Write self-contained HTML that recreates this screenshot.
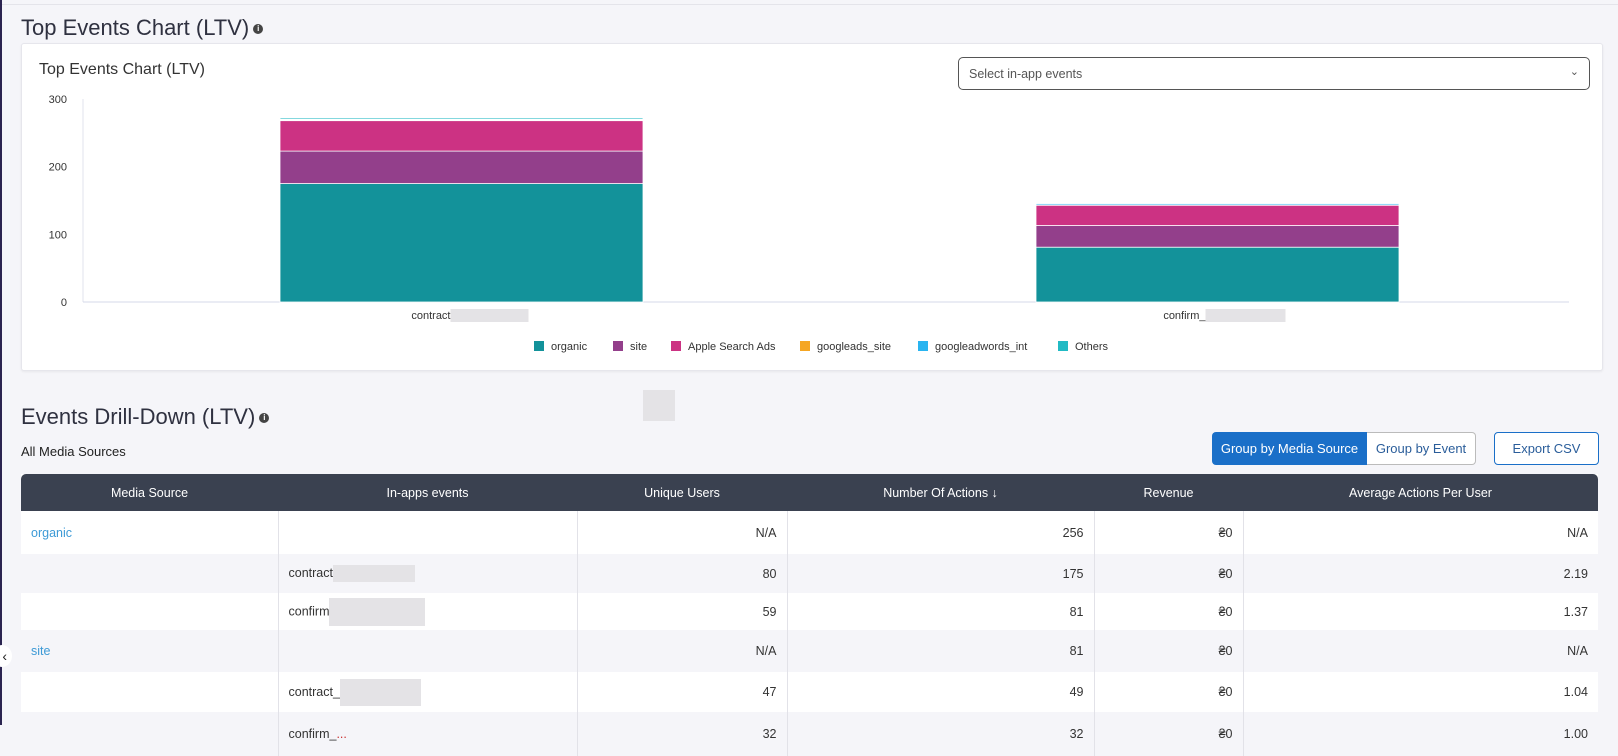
<!DOCTYPE html>
<html><head><meta charset="utf-8">
<style>
*{box-sizing:border-box;margin:0;padding:0}
body{width:1618px;height:725px;overflow:hidden;background:#f5f5f9;font-family:"Liberation Sans",sans-serif;color:#333;position:relative}
.abs{position:absolute}
.h1{font-size:22px;color:#2f3140;font-weight:normal;white-space:nowrap}
.info{display:inline-block;width:10px;height:10px;border-radius:50%;background:#444;color:#fff;font-size:8px;line-height:10px;text-align:center;font-weight:bold;vertical-align:middle;margin-left:4px}
table{border-collapse:collapse;font-size:12.5px;table-layout:fixed}
td{border-left:1px solid #e2e2e8;padding:0 10px;white-space:nowrap}
td:first-child{border-left:none}
.r{text-align:right}
.g{background:#f5f5f9}
.blur{display:inline-block;background:#e4e3e6;vertical-align:middle}
</style></head><body>
<div class="abs" style="left:0;top:0;width:2px;height:725px;background:#2b2450"></div>
<div class="abs" style="left:2px;top:4px;width:1616px;height:1px;background:#e4e4ea"></div>
<div class="abs h1" style="left:21px;top:15px">Top Events Chart (LTV)<span class="info">i</span></div>

<div class="abs" style="left:21px;top:43px;width:1582px;height:328px;background:#fff;border:1px solid #e6e6ec;border-radius:3px;box-shadow:0 1px 2px rgba(0,0,0,0.06)"></div>
<div class="abs" style="left:39px;top:61px;font-size:16px;color:#333">Top Events Chart (LTV)</div>
<div class="abs" style="left:958px;top:57px;width:632px;height:33px;border:1px solid #555;border-radius:5px;background:#fff;font-size:12.5px;color:#555;padding:9px 10px">Select in-app events<span style="position:absolute;right:10px;top:7px;font-size:11px">&#8964;</span></div>

<svg class="abs" id="chart" style="left:0;top:0" width="1618" height="380"></svg>

<div class="abs" style="left:643px;top:390px;width:32px;height:31px;background:#e4e3e6"></div>

<div class="abs h1" style="left:21px;top:404px">Events Drill-Down (LTV)<span class="info">i</span></div>
<div class="abs" style="left:21px;top:444px;font-size:13px;color:#222">All Media Sources</div>

<div class="abs" style="left:1212px;top:432px;width:155px;height:33px;background:#1a6fc8;color:#fff;font-size:13px;line-height:33px;text-align:center;border-radius:4px 0 0 4px">Group by Media Source</div>
<div class="abs" style="left:1367px;top:432px;width:109px;height:33px;background:#fff;color:#2a5d9a;font-size:13px;line-height:31px;text-align:center;border:1px solid #bbb;border-left:none;border-radius:0 4px 4px 0">Group by Event</div>
<div class="abs" style="left:1494px;top:432px;width:105px;height:33px;background:#fff;color:#2a5d9a;font-size:13px;line-height:31px;text-align:center;border:1px solid #1a6fc8;border-radius:4px">Export CSV</div>

<div class="abs" style="left:21px;top:474px;width:1577px;background:#fff">
<table style="width:1577px">
<colgroup><col style="width:257px"><col style="width:299px"><col style="width:210px"><col style="width:307px"><col style="width:149px"><col style="width:355px"></colgroup>
<tr style="height:37px;background:#3a4150;color:#fff;text-align:center">
<td style="border:none;border-radius:5px 0 0 0">Media Source</td>
<td style="border:none">In-apps events</td>
<td style="border:none">Unique Users</td>
<td style="border:none">Number Of Actions ↓</td>
<td style="border:none">Revenue</td>
<td style="border:none;border-radius:0 5px 0 0">Average Actions Per User</td></tr>
<tr style="height:43px"><td style="color:#3d9ad6">organic</td><td></td><td class="r">N/A</td><td class="r">256</td><td class="r">₴0</td><td class="r">N/A</td></tr>
<tr style="height:39px" class="g"><td></td><td>contract<span class="blur" style="width:82px;height:17px"></span></td><td class="r">80</td><td class="r">175</td><td class="r">₴0</td><td class="r">2.19</td></tr>
<tr style="height:37px"><td></td><td>confirm<span class="blur" style="width:96px;height:28px"></span></td><td class="r">59</td><td class="r">81</td><td class="r">₴0</td><td class="r">1.37</td></tr>
<tr style="height:42px" class="g"><td style="color:#3d9ad6">site</td><td></td><td class="r">N/A</td><td class="r">81</td><td class="r">₴0</td><td class="r">N/A</td></tr>
<tr style="height:40px"><td></td><td>contract_<span class="blur" style="width:81px;height:27px"></span></td><td class="r">47</td><td class="r">49</td><td class="r">₴0</td><td class="r">1.04</td></tr>
<tr style="height:44px" class="g"><td></td><td>confirm_<span style="color:#c33">...</span></td><td class="r">32</td><td class="r">32</td><td class="r">₴0</td><td class="r">1.00</td></tr>
</table></div>

<div class="abs" style="left:-8px;top:645px;width:20px;height:22px;border-radius:50%;background:#fff;font-size:14px;line-height:22px;text-align:right;padding-right:5px;color:#222">‹</div>

<script>
const categories = ["contract", "confirm_"];
const seriesNames = ["organic", "site", "Apple Search Ads", "googleads_site", "googleadwords_int", "Others"];
const seriesColors = ["#13929a", "#933f8b", "#cc3283", "#f5a623", "#29b4f0", "#21bac4"];
const organic = [175, 81];
const site = [48, 32];
const appleSearchAds = [45, 30];
const googleadsSite = [1, 0.5];
const googleadwordsInt = [1, 2];
const others = [2, 0];
const yTicks = [0, 100, 200, 300];
const blurWidths = [78, 80];

const svg = document.getElementById('chart');
const NS = 'http://www.w3.org/2000/svg';
const x0 = 83, x1 = 1569, yTop = 99, yBot = 302, yMax = 300;
const y = v => yBot - (v / yMax) * (yBot - yTop);
const band = 756;
const bx = i => x0 + 197 + band * i;
const bw = 363;
function mk(tag, attrs) { const e = document.createElementNS(NS, tag); for (const k in attrs) e.setAttribute(k, attrs[k]); svg.appendChild(e); return e; }

yTicks.forEach(t => {
  const tx = mk('text', {x: 67, y: y(t) + 4, 'text-anchor': 'end', 'font-size': 11, fill: '#333', 'font-family': 'Liberation Sans, sans-serif'});
  tx.textContent = t;
  
  
});
const ax = mk('line', {x1: x0, y1: yTop, x2: x0, y2: yBot, stroke: '#e0e3ee'});


const xa = mk('line', {x1: x0, y1: yBot, x2: x1, y2: yBot, stroke: '#d5d9ea'});



const series = [organic, site, appleSearchAds, googleadsSite, googleadwordsInt, others];
categories.forEach((c, i) => {
  let acc = 0;
  series.forEach((s, k) => {
    const v = s[i];
    if (v <= 0) return;
    const r = mk('rect', {x: bx(i), y: y(acc + v), width: bw, height: y(acc) - y(acc + v), fill: seriesColors[k], stroke: '#fff', 'stroke-width': 0.8});
    
    
    acc += v;
  });
  const cx = bx(i) + bw / 2;
  const lab = mk('text', {x: cx - blurWidths[i] / 2 + 28, y: yBot + 17, 'text-anchor': 'end', 'font-size': 11, fill: '#333', 'font-family': 'Liberation Sans, sans-serif'});
  lab.textContent = c;
  
  
  const bl = mk('rect', {x: cx - blurWidths[i] / 2 + 28, y: yBot + 7, width: blurWidths[i], height: 13, fill: '#e4e3e6'});
  
  
});

const legendX = [534, 613, 671, 800, 918, 1058];
seriesNames.forEach((n, k) => {
  const sq = mk('rect', {x: legendX[k], y: 341, width: 10, height: 10, fill: seriesColors[k]});
  
  
  const t = mk('text', {x: legendX[k] + 17, y: 350, 'font-size': 11, fill: '#333', 'font-family': 'Liberation Sans, sans-serif'});
  t.textContent = n;
  
  
});
</script>
</body></html>
